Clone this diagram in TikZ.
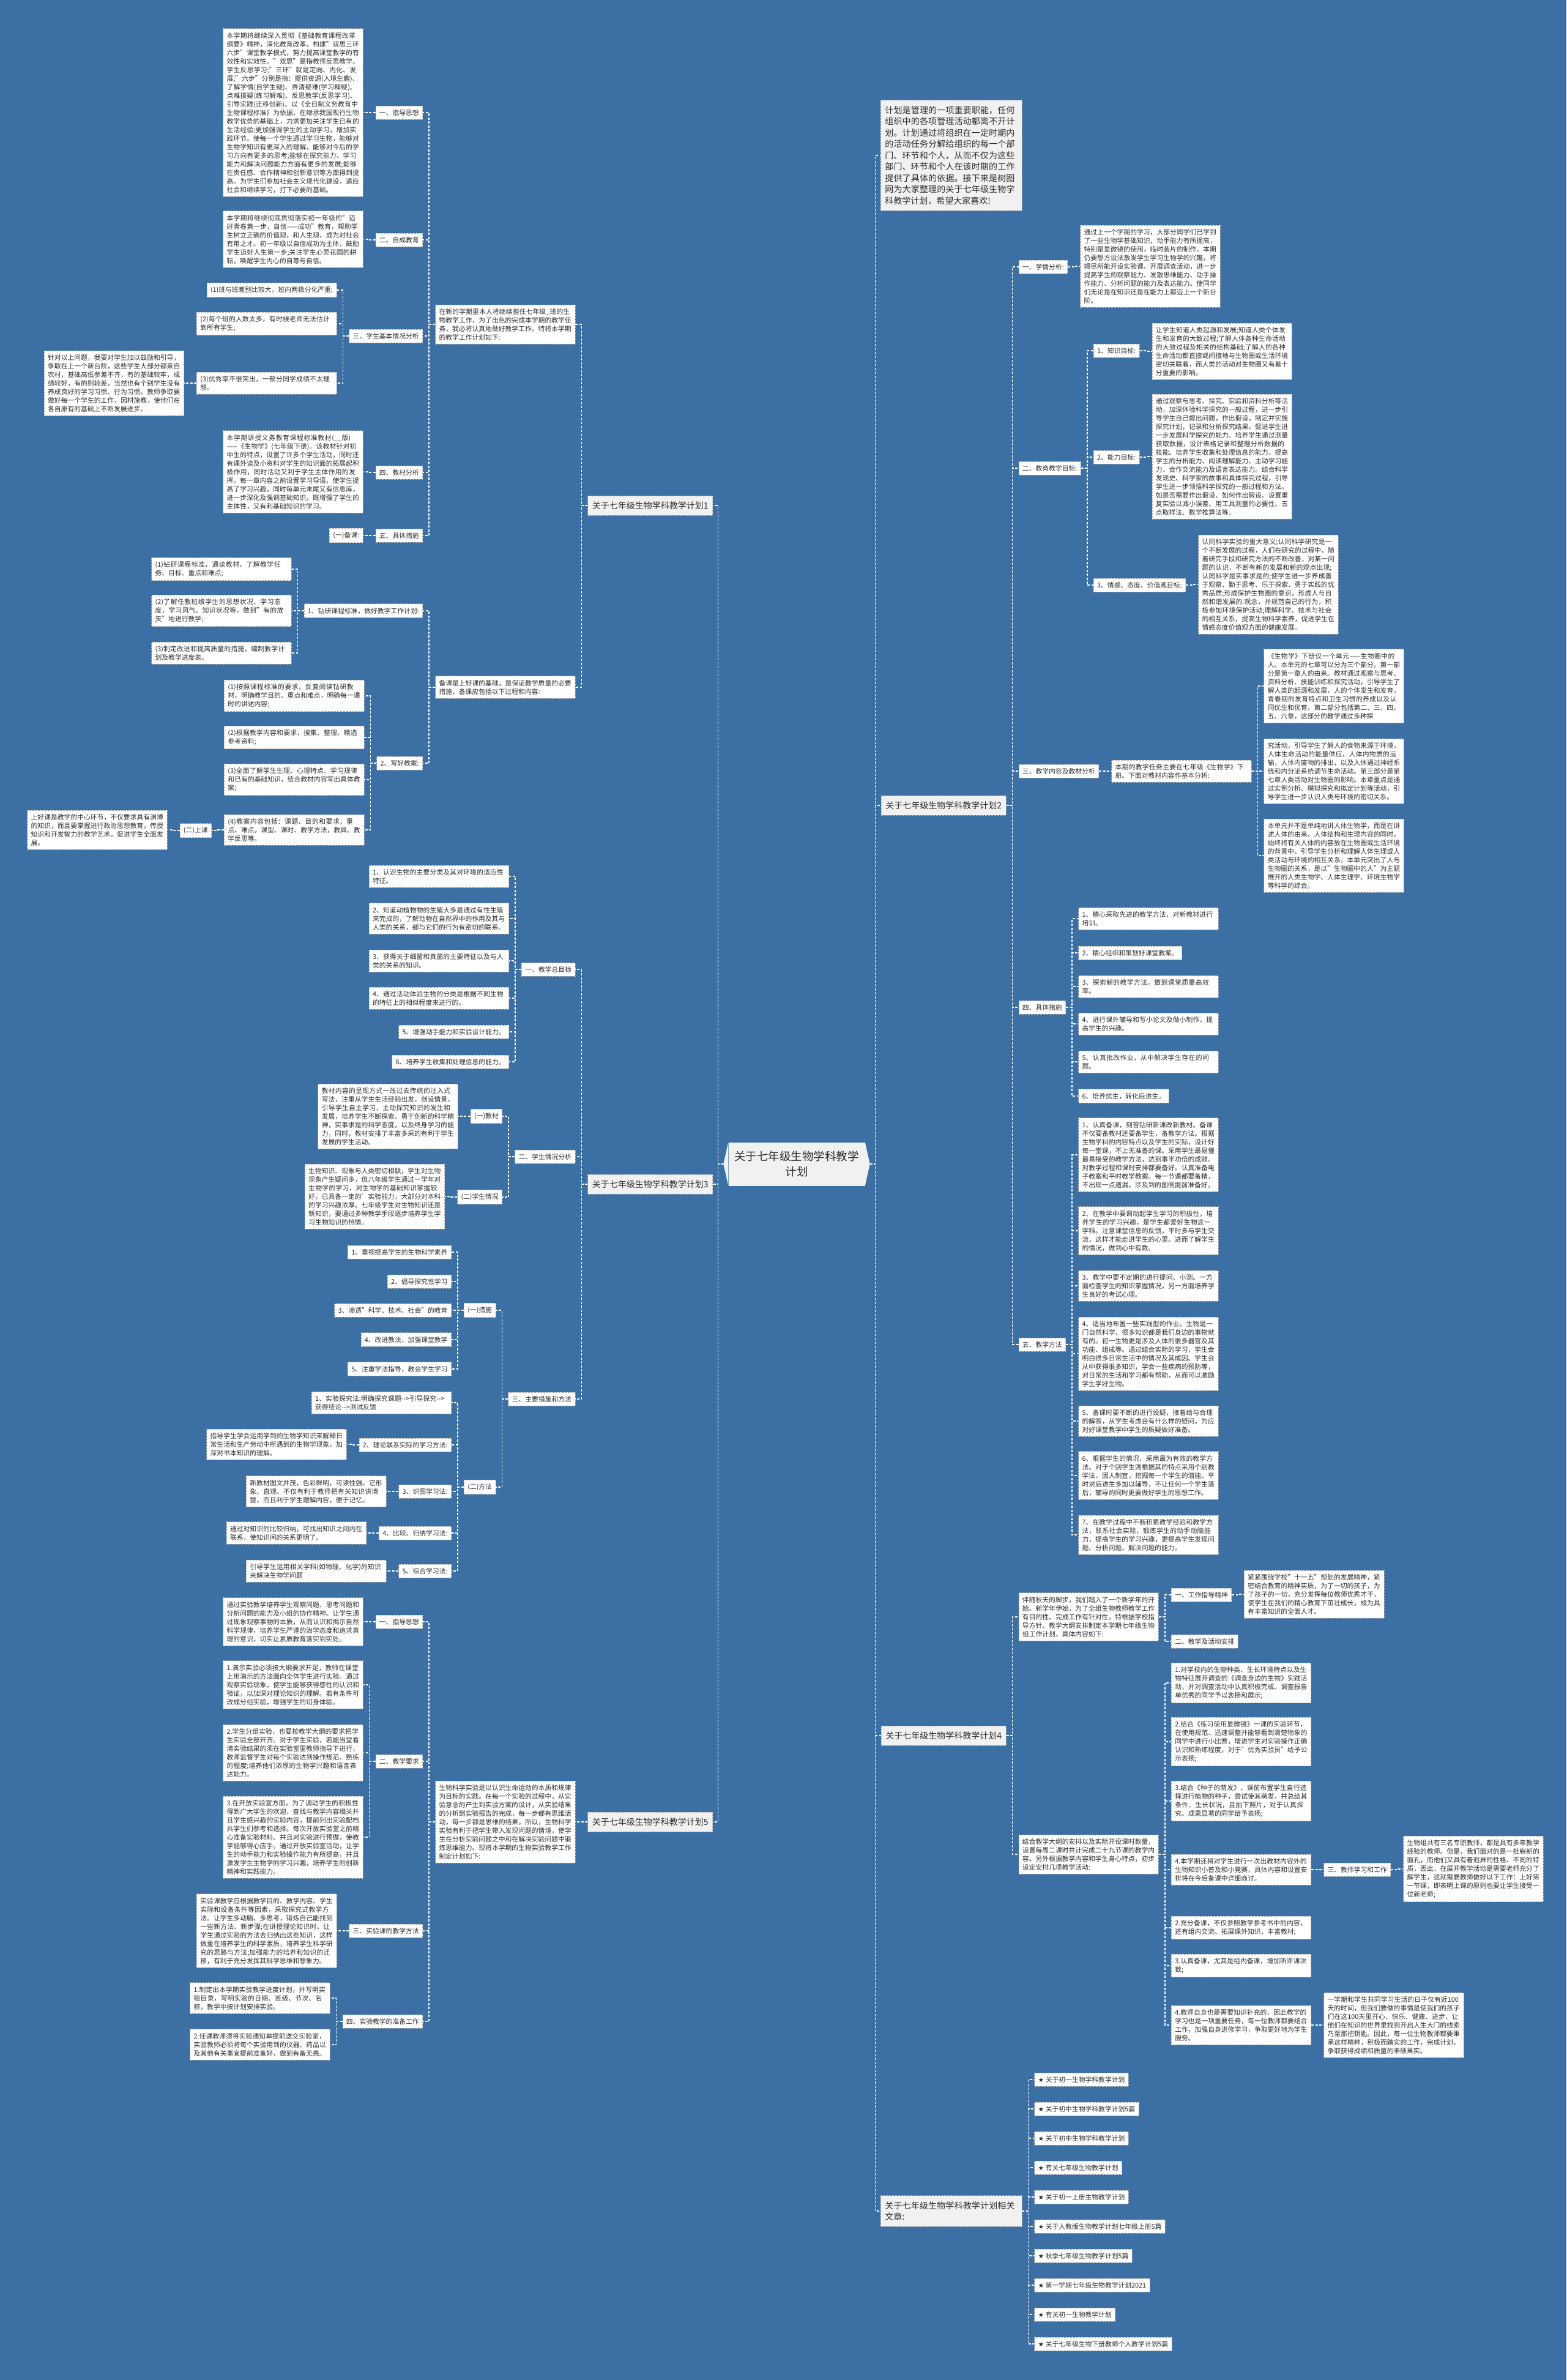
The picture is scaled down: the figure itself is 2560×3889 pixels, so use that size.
\documentclass[tikz,border=0pt]{standalone}
\usepackage{fontspec}
\setmainfont{Noto Sans CJK SC}
\newfontfamily\dejavu{DejaVu Sans}
\XeTeXlinebreaklocale "zh"
\XeTeXlinebreakskip=0pt plus 1pt
\usetikzlibrary{calc}
\definecolor{bgblue}{RGB}{60,112,165}
\definecolor{bxborder}{RGB}{175,175,175}
\definecolor{lvfill}{RGB}{241,241,241}
\definecolor{txtc}{RGB}{45,45,45}
\newcommand\fsleaf{\fontsize{10.8pt}{14pt}\selectfont}
\newcommand\fsone{\fontsize{14pt}{18.5pt}\selectfont}
\newcommand\fscen{\fontsize{18.5pt}{25pt}\selectfont}
\newcommand\conL[2]{\draw[conn] (#1.west) -- ++(-10,0) |- (#2.east);}
\newcommand\conR[2]{\draw[conn] (#1.east) -- ++(10,0) |- (#2.west);}
\tikzset{
 bx/.style={draw=bxborder, dash pattern=on 3pt off 2pt, line width=0.8pt, fill=white, text=txtc, inner xsep=6pt, inner ysep=6pt, font=\fsleaf, align=left},
 bxw/.style={bx, text width=216.5pt},
 bxs/.style={bx},
 lvone/.style={bx, fill=lvfill, font=\fsone, inner xsep=7pt, inner ysep=9.5pt},
 lvonew/.style={lvone, text width=216.5pt},
 cen/.style={fill=lvfill, text=txtc, font=\fscen, align=center, minimum width=223pt, minimum height=71pt, inner sep=0pt},
 conn/.style={draw=white, line width=1.5pt, dash pattern=on 4pt off 2.5pt},
 Lk/.style={anchor=east, xshift=-20pt},
 Rk/.style={anchor=west, xshift=20pt},
}
\begin{document}
\begin{tikzpicture}[x=1pt,y=-1pt]
\useasboundingbox (0,0) rectangle (2560,3889);
\fill[bgblue] (0,0) rectangle (2560,3889);

% ---------------- center ----------------
\node[cen] (C) at (1302,1902) {关于七年级生物学科教学\\计划};
\fill[lvfill] (C.north west) -- ([xshift=-8pt]C.west) -- (C.south west) -- cycle;
\fill[lvfill] (C.north east) -- ([xshift=8pt]C.east) -- (C.south east) -- cycle;

% ---------------- plan 1 ----------------
\node[lvone, anchor=east] (P1) at (1165,826) {关于七年级生物学科教学计划1};
\node[bxw, Lk] (I1) at (P1.west |- 0,530) {在新的学期里本人将继续担任七年级\_班的生物教学工作，为了出色的完成本学期的教学任务，我必将认真地做好教学工作。特将本学期的教学工作计划如下:};
\node[bxw, Lk] (N6) at (P1.west |- 0,1123) {备课是上好课的基础，是保证教学质量的必要措施，备课应包括以下过程和内容:};
\node[bxs, Lk] (N1) at (I1.west |- 0,184) {一、指导思想};
\node[bxs, Lk] (N2) at (I1.west |- 0,392) {二、自成教育};
\node[bxs, Lk] (N3) at (I1.west |- 0,549) {三、学生基本情况分析};
\node[bxs, Lk] (N4) at (I1.west |- 0,772) {四、教材分析};
\node[bxs, Lk] (N5) at (I1.west |- 0,875) {五、具体措施};
\node[bxw, Lk] (N1a) at (N1.west |- 0,184) {本学期将继续深入贯彻《基础教育课程改革纲要》精神，深化教育改革，构建"双思三环六步"课堂教学模式，努力提高课堂教学的有效性和实效性。"双思"是指教师反思教学、学生反思学习;"三环"就是定向、内化、发展;"六步"分别是指：提供资源(入境生趣)、了解学情(自学生疑)、弄清疑难(学习释疑)、点难拨疑(练习解难)、反思教学(反思学习)、引导实践(迁移创新)。以《全日制义务教育中生物课程标准》为依据，在继承我国现行生物教学优势的基础上，力求更加关注学生已有的生活经验;更加强调学生的主动学习，增加实践环节。使每一个学生通过学习生物，能够对生物学知识有更深入的理解，能够对今后的学习方向有更多的思考;能够在探究能力、学习能力和解决问题能力方面有更多的发展;能够在责任感、合作精神和创新意识等方面得到提高。为学生们参加社会主义现代化建设，适应社会和继续学习，打下必要的基础。};
\node[bxw, Lk] (N2a) at (N2.west |- 0,391) {本学期将继续彻底贯彻落实初一年级的"迈好青春第一步，自信——成功"教育，帮助学生树立正确的价值观，和人生观，成为对社会有用之才。初一年级以自信成功为主体，鼓励学生迈好人生第一步;关注学生心灵花园的耕耘，唤醒学生内心的自尊与自信。};
\node[bxs, Lk] (N3a) at (N3.west |- 0,474) {(1)班与班差别比较大，班内两极分化严重;};
\node[bxw, Lk] (N3b) at (N3.west |- 0,529) {(2)每个班的人数太多，有时候老师无法估计到所有学生;};
\node[bxw, Lk] (N3c) at (N3.west |- 0,626) {(3)优秀率不很突出，一部分同学成绩不太理想。};
\node[bxw, Lk] (N3d) at (N3c.west |- 0,626) {针对以上问题，我要对学生加以鼓励和引导，争取在上一个新台阶，这些学生大部分都来自农村，基础高低参差不齐，有的基础较牢，成绩较好，有的则较差，当然也有个别学生没有养成良好的学习习惯、行为习惯。教师争取要做好每一个学生的工作，因材施教，使他们在各自原有的基础上不断发展进步。};
\node[bxw, Lk] (N4a) at (N4.west |- 0,771) {本学期讲授义务教育课程标准教材(\_\_版)——《生物学》(七年级下册)。该教材针对初中生的特点，设置了许多个学生活动，同时还有课外读及小资料对学生的知识面的拓展起积极作用，同时活动又利于学生主体作用的发挥。每一章内容之前设置学习导语，使学生提高了学习兴趣，同时每单元末尾又有信息库，进一步深化及强调基础知识。既增强了学生的主体性，又有利基础知识的学习。};
\node[bxs, Lk] (N5a) at (N5.west |- 0,875) {(一)备课:};
\node[bxs, Lk] (N6a) at (N6.west |- 0,998) {1、钻研课程标准，做好教学工作计划:};
\node[bxs, Lk] (N6b) at (N6.west |- 0,1247) {2、写好教案:};
\node[bxw, Lk] (N6a1) at (N6a.west |- 0,930) {(1)钻研课程标准，通读教材，了解教学任务、目标、重点和难点;};
\node[bxw, Lk] (N6a2) at (N6a.west |- 0,998) {(2)了解任教班级学生的思想状况、学习态度，学习风气、知识状况等，做到"有的放矢"地进行教学;};
\node[bxw, Lk] (N6a3) at (N6a.west |- 0,1067) {(3)制定改进和提高质量的措施，编制教学计划及教学进度表。};
\node[bxw, Lk] (N6b1) at (N6b.west |- 0,1137) {(1)按照课程标准的要求，反复阅读钻研教材，明确教学目的、重点和难点，明确每一课时的讲述内容;};
\node[bxw, Lk] (N6b2) at (N6b.west |- 0,1205) {(2)根据教学内容和要求，搜集、整理、精选参考资料;};
\node[bxw, Lk] (N6b3) at (N6b.west |- 0,1274) {(3)全面了解学生生理、心理特点、学习规律和已有的基础知识，结合教材内容写出具体教案;};
\node[bxw, Lk] (N6b4) at (N6b.west |- 0,1356) {(4)教案内容包括：课题、目的和要求，重点、难点，课型、课时、教学方法，教具、教学反思等。};
\node[bxs, Lk] (N6b4a) at (N6b4.west |- 0,1357) {(二)上课};
\node[bxw, Lk] (N6b4b) at (N6b4a.west |- 0,1356) {上好课是教学的中心环节，不仅要求具有渊博的知识，而且要掌握进行政治思想教育，传授知识和开发智力的教学艺术，促进学生全面发展。};

% ---------------- plan 3 ----------------
\node[lvone, anchor=east] (P3) at (1165,1935) {关于七年级生物学科教学计划3};
\node[bxs, Lk] (P31) at (P3.west |- 0,1584) {一、教学总目标};
\node[bxs, Lk] (P32) at (P3.west |- 0,1890) {二、学生情况分析};
\node[bxs, Lk] (P33) at (P3.west |- 0,2286) {三、主要措施和方法};
\node[bxw, Lk] (A1) at (P31.west |- 0,1432) {1、认识生物的主要分类及其对环境的适应性特征。};
\node[bxw, Lk] (A2) at (P31.west |- 0,1501) {2、知道动植物物的生殖大多是通过有性生殖来完成的，了解动物在自然界中的作用及其与人类的关系，都与它们的行为有密切的联系。};
\node[bxw, Lk] (A3) at (P31.west |- 0,1570) {3、获得关于细菌和真菌的主要特征以及与人类的关系的知识。};
\node[bxw, Lk] (A4) at (P31.west |- 0,1631) {4、通过活动体验生物的分类是根据不同生物的特征上的相似程度来进行的。};
\node[bxs, Lk] (A5) at (P31.west |- 0,1686) {5、增强动手能力和实验设计能力。};
\node[bxs, Lk] (A6) at (P31.west |- 0,1735) {6、培养学生收集和处理信息的能力。};
\node[bxs, Lk] (B1) at (P32.west |- 0,1824) {(一)教材};
\node[bxs, Lk] (B2) at (P32.west |- 0,1956) {(二)学生情况};
\node[bxw, Lk] (B1a) at (B1.west |- 0,1824) {教材内容的呈现方式一改过去传统的注入式写法，注重从学生生活经验出发，创设情景，引导学生自主学习，主动探究知识的发生和发展，培养学生不断探索、勇于创新的科学精神，实事求是的科学态度，以及终身学习的能力，同时，教材安排了丰富多采的有利于学生发展的学生活动。};
\node[bxw, Lk] (B2a) at (B2.west |- 0,1955) {生物知识、现象与人类密切相联，学生对生物现象产生疑问多，但八年级学生通过一学年对生物学的学习，对生物学的基础知识掌握较好，已具备一定的'实验能力，大部分对本科的学习兴趣浓厚。七年级学生对生物知识还是新知识，要通过多种教学手段逐步培养学生学习生物知识的热情。};
\node[bxs, Lk] (K1) at (P33.west |- 0,2141) {(一)措施};
\node[bxs, Lk] (K2) at (P33.west |- 0,2430) {(二)方法};
\node[bxs, Lk] (K11) at (K1.west |- 0,2046) {1、重视提高学生的生物科学素养};
\node[bxs, Lk] (K12) at (K1.west |- 0,2094) {2、倡导探究性学习};
\node[bxs, Lk] (K13) at (K1.west |- 0,2141) {3、渗透"科学、技术、社会"的教育};
\node[bxs, Lk] (K14) at (K1.west |- 0,2189) {4、改进教法，加强课堂教学};
\node[bxs, Lk] (K15) at (K1.west |- 0,2237) {5、注重学法指导，教会学生学习};
\node[bxw, Lk] (K21) at (K2.west |- 0,2292) {1、实验探究法:明确探究课题-{}->引导探究-{}->获得结论-{}->测试反馈};
\node[bxs, Lk] (K22) at (K2.west |- 0,2361) {2、理论联系实际的学习方法:};
\node[bxs, Lk] (K23) at (K2.west |- 0,2437) {3、识图学习法:};
\node[bxs, Lk] (K24) at (K2.west |- 0,2505) {4、比较、归纳学习法:};
\node[bxs, Lk] (K25) at (K2.west |- 0,2567) {5、综合学习法:};
\node[bxw, Lk] (K22a) at (K22.west |- 0,2360) {指导学生学会运用学到的生物学知识来解释日常生活和生产劳动中所遇到的生物学现象，加深对书本知识的理解。};
\node[bxw, Lk] (K23a) at (K23.west |- 0,2437) {新教材图文并茂，色彩鲜明，可读性强。它形象、直观、不仅有利于教师把有关知识讲清楚，而且利于学生理解内容，便于记忆。};
\node[bxw, Lk] (K24a) at (K24.west |- 0,2505) {通过对知识的比较归纳，可找出知识之间内在联系，使知识间的关系更明了。};
\node[bxw, Lk] (K25a) at (K25.west |- 0,2567) {引导学生运用相关学科(如物理、化学)的知识来解决生物学问题};

% ---------------- plan 5 ----------------
\node[lvone, anchor=east] (P5) at (1165,2977) {关于七年级生物学科教学计划5};
\node[bxw, Lk] (D5) at (P5.west |- 0,2977) {生物科学实验是以认识生命运动的本质和规律为目标的实践。在每一个实验的过程中，从实验意念的产生到实验方案的设计，从实验结果的分析到实验报告的完成，每一步都有思维活动，每一步都是思维的结果。所以，生物科学实验有利于把学生带入发现问题的情境，使学生在分析实验问题之中和在解决实验问题中锻炼思维能力。现将本学期的生物实验教学工作制定计划如下:};
\node[bxs, Lk] (D1) at (D5.west |- 0,2650) {一、指导思想};
\node[bxs, Lk] (D2) at (D5.west |- 0,2878) {二、教学要求};
\node[bxs, Lk] (D3) at (D5.west |- 0,3155) {三、实验课的教学方法};
\node[bxs, Lk] (D4) at (D5.west |- 0,3303) {四、实验教学的准备工作};
\node[bxw, Lk] (D1a) at (D1.west |- 0,2650) {通过实验教学培养学生观察问题、思考问题和分析问题的能力及小组的协作精神。让学生通过现象观察事物的本质，从而认识和揭示自然科学规律，培养学生严谨的治学态度和追求真理的意识，切实让素质教育落实到实处。};
\node[bxw, Lk] (D2a) at (D2.west |- 0,2753) {1.演示实验必须按大纲要求开足，教师在课堂上用演示的方法面向全体学生进行实验。通过观察实验现象，使学生能够获得感性的认识和验证，以加深对理论知识的理解。若有条件可改成分组实验，增强学生的切身体验。};
\node[bxw, Lk] (D2b) at (D2.west |- 0,2864) {2.学生分组实验，也要按教学大纲的要求把学生实验全部开齐。对于学生实验，若能当堂看清实验结果的须在实验室里教师指导下进行，教师监督学生对每个实验达到操作规范、熟练的程度;培养他们浓厚的生物学兴趣和语言表达能力。};
\node[bxw, Lk] (D2c) at (D2.west |- 0,3002) {3.在开放实验室方面，为了调动学生的积极性得到广大学生的欢迎，查找与教学内容相关并且学生感兴趣的实验内容，提前列出实验配档共学生们参考和选择。每次开放实验室之前精心准备实验材料、并且对实验进行预做，使教学能够得心应手。通过开放实验室活动，让学生的动手能力和实验操作能力有所提高，并且激发学生生物学的学习兴趣，培养学生的创新精神和实践能力。};
\node[bxw, Lk] (D3a) at (D3.west |- 0,3155) {实验课教学应根据教学目的、教学内容、学生实际和设备条件等因素，采取探究式教学方法。让学生多动脑、多思考，锻炼自己能找到一些新方法、新步骤;在讲授理论知识时，让学生通过实验的方法去归纳出这些知识，这样做重在培养学生的科学素质，培养学生科学研究的思路与方法;加强能力的培养和知识的迁移，有利于充分发挥其科学思维和想象力。};
\node[bxw, Lk] (D4a) at (D4.west |- 0,3265) {1.制定出本学期实验教学进度计划，并写明实验目录，写明实验的日期、班级、节次、名称，教学中按计划安排实验。};
\node[bxw, Lk] (D4b) at (D4.west |- 0,3341) {2.任课教师须将实验通知单提前送交实验室，实验教师必须将每个实验用到的仪器、药品以及其他有关事宜提前准备好，做到有备无患。};

% ---------------- right: intro ----------------
\node[lvonew, anchor=west] (R0) at (1439,254) {计划是管理的一项重要职能，任何组织中的各项管理活动都离不开计划。计划通过将组织在一定时期内的活动任务分解给组织的每一个部门、环节和个人，从而不仅为这些部门、环节和个人在该时期的工作提供了具体的依据。接下来是树图网为大家整理的关于七年级生物学科教学计划，希望大家喜欢!};

% ---------------- plan 2 ----------------
\node[lvone, anchor=west] (P2) at (1440,1316) {关于七年级生物学科教学计划2};
\node[bxs, Rk] (E1) at (P2.east |- 0,436) {一、学情分析:};
\node[bxs, Rk] (E2) at (P2.east |- 0,765) {二、教育教学目标:};
\node[bxs, Rk] (E3) at (P2.east |- 0,1260) {三、教学内容及教材分析};
\node[bxs, Rk] (E4) at (P2.east |- 0,1646) {四、具体措施};
\node[bxs, Rk] (E5) at (P2.east |- 0,2197) {五、教学方法};
\node[bxw, Rk] (E1a) at (E1.east |- 0,435) {通过上一个学期的学习，大部分同学们已学到了一些生物学基础知识，动手能力有所提高，特别是显微镜的使用，临时装片的制作。本期仍要想方设法激发学生学习生物学的兴趣，将竭尽所能开设实验课、开展调查活动，进一步提高学生的观察能力、发散思维能力、动手操作能力、分析问题的能力及表达能力。使同学们无论是在知识还是在能力上都迈上一个新台阶。};
\node[bxs, Rk] (E2a) at (E2.east |- 0,573) {1、知识目标:};
\node[bxs, Rk] (E2b) at (E2.east |- 0,747) {2、能力目标:};
\node[bxs, Rk] (E2c) at (E2.east |- 0,956) {3、情感、态度、价值观目标:};
\node[bxw, Rk] (E2a1) at (E2a.east |- 0,574) {让学生知道人类起源和发展;知道人类个体发生和发育的大致过程;了解人体各种生命活动的大致过程及相关的结构基础;了解人的各种生命活动都直接或间接地与生物圈或生活环境密切关联着，而人类的活动对生物圈又有着十分重要的影响。};
\node[bxw, Rk] (E2b1) at (E2b.east |- 0,746) {通过观察与思考、探究、实验和资料分析等活动，加深体验科学探究的一般过程，进一步引导学生自己提出问题，作出假设，制定并实施探究计划，记录和分析探究结果。促进学生进一步发展科学探究的能力。培养学生通过测量获取数据，设计表格记录和整理分析数据的技能。培养学生收集和处理信息的能力。提高学生的分析能力、阅读理解能力、主动学习能力、合作交流能力及语言表达能力。结合科学发现史、科学家的故事和具体探究过程，引导学生进一步领悟科学探究的一般过程和方法。如是否需要作出假设、如何作出假设、设置重复实验以减小误差、用工具测量的必要性、五点取样法、数学推算法等。};
\node[bxw, Rk] (E2c1) at (E2c.east |- 0,955) {认同科学实验的重大意义;认同科学研究是一个不断发展的过程，人们在研究的过程中，随着研究手段和研究方法的不断改善，对某一问题的认识，不断有新的发展和新的观点出现;认同科学是实事求是的;使学生进一步养成善于观察、勤于思考、乐于探索、勇于实践的优秀品质;形成保护生物圈的意识，形成人与自然和谐发展的.观念，并规范自己的行为，积极参加环境保护活动;理解科学、技术与社会的相互关系，提高生物科学素养，促进学生在情感态度价值观方面的健康发展。};
\node[bxw, Rk] (E3a) at (E3.east |- 0,1260) {本期的教学任务主要在七年级《生物学》下册。下面对教材内容作基本分析:};
\node[bxw, Rk] (E3b) at (E3a.east |- 0,1121) {《生物学》下册仅一个单元——生物圈中的人。本单元的七章可以分为三个部分。第一部分是第一章人的由来。教材通过观察与思考、资料分析、技能训练和探究活动，引导学生了解人类的起源和发展，人的个体发生和发育，青春期的发育特点和卫生习惯的养成以及认同优生和优育。第二部分包括第二、三、四、五、六章，这部分的教学通过多种探};
\node[bxw, Rk] (E3c) at (E3a.east |- 0,1260) {究活动，引导学生了解人的食物来源于环境，人体生命活动的能量供应，人体内物质的运输，人体内废物的排出，以及人体通过神经系统和内分泌系统调节生命活动。第三部分是第七章人类活动对生物圈的影响。本章重点是通过实例分析、模拟探究和拟定计划等活动，引导学生进一步认识人类与环境的密切关系。};
\node[bxw, Rk] (E3d) at (E3a.east |- 0,1398) {本单元并不是单纯地讲人体生物学，而是在讲述人体的由来、人体结构和生理内容的同时，始终将有关人体的内容放在生物圈或生活环境的背景中，引导学生分析和理解人体生理或人类活动与环境的相互关系。本单元突出了人与生物圈的关系，是以"生物圈中的人"为主题展开的人类生物学、人体生理学、环境生物学等科学的综合。};
\node[bxw, Rk] (E41) at (E4.east |- 0,1501) {1、精心采取先进的教学方法，对新教材进行培训。};
\node[bxs, Rk] (E42) at (E4.east |- 0,1557) {2、精心组织和策划好课堂教案。};
\node[bxw, Rk] (E43) at (E4.east |- 0,1612) {3、探索新的教学方法，做到课堂质量高效率。};
\node[bxw, Rk] (E44) at (E4.east |- 0,1673) {4、进行课外辅导和写小论文及做小制作，提高学生的兴趣。};
\node[bxw, Rk] (E45) at (E4.east |- 0,1735) {5、认真批改作业，从中解决学生存在的问题。};
\node[bxs, Rk] (E46) at (E4.east |- 0,1791) {6、培养优生，转化后进生。};
\node[bxw, Rk] (E51) at (E5.east |- 0,1887) {1、认真备课，刻苦钻研新课改新教材。备课不仅要备教材还要备学生，备教学方法。根据生物学科的内容特点以及学生的实际，设计好每一堂课，不上无准备的课。采用学生最易懂最易接受的教学方法，达到事半功倍的成效。对教学过程和课时安排都要备好。认真准备电子教案和平时教学教案。每一节课都要备精，不出现一点遗漏，涉及到的图例提前准备好。};
\node[bxw, Rk] (E52) at (E5.east |- 0,2011) {2、在教学中要调动起学生学习的积极性，培养学生的学习兴趣，是学生都爱好生物这一学科。注意课堂信息的反馈，平时多与学生交流，这样才能走进学生的心里。进而了解学生的情况，做到心中有数。};
\node[bxw, Rk] (E53) at (E5.east |- 0,2101) {3、教学中要不定期的进行提问、小测。一方面检查学生的知识掌握情况，另一方面培养学生良好的考试心理。};
\node[bxw, Rk] (E54) at (E5.east |- 0,2212) {4、适当地布置一些实践型的作业。生物是一门自然科学，很多知识都是我们身边的事物就有的。初一生物更是涉及人体的很多器官及其功能、组成等。通过结合实际的学习，学生会明白很多日常生活中的情况及其成因。学生会从中获得很多知识，学会一些疾病的预防等，对日常的生活和学习都有帮助，从而可以激励学生学好生物。};
\node[bxw, Rk] (E55) at (E5.east |- 0,2322) {5、备课时要不断的进行设疑，接着给与合理的解答，从学生考虑会有什么样的疑问。为应对好课堂教学中学生的质疑做好准备。};
\node[bxw, Rk] (E56) at (E5.east |- 0,2411) {6、根据学生的情况，采用最为有效的教学方法。对于个别学生则根据其的特点采用个别教学法，因人制宜，挖掘每一个学生的潜能。平时对后进生多加以辅导，不让任何一个学生落后，辅导的同时更要做好学生的思想工作。};
\node[bxw, Rk] (E57) at (E5.east |- 0,2508) {7、在教学过程中不断积累教学经验和教学方法，联系社会实际，锻炼学生的动手动脑能力，提高学生的学习兴趣，更提高学生发现问题、分析问题、解决问题的能力。};

% ---------------- plan 4 ----------------
\node[lvone, anchor=west] (P4) at (1440,2836) {关于七年级生物学科教学计划4};
\node[bxw, Rk] (F1) at (P4.east |- 0,2642) {伴随秋天的脚步，我们踏入了一个新学年的开始。新学年伊始，为了全组生物教师教学工作有目的性、完成工作有针对性，特根据学校指导方针、教学大纲安排制定本学期七年级生物组工作计划，具体内容如下:};
\node[bxw, Rk] (F2) at (P4.east |- 0,3030) {结合教学大纲的安排以及实际开设课时数量，设置每周二课时共计完成二十九节课的教学内容。另外根据教学内容和学生身心特点，初步设定安排几项教学活动:};
\node[bxs, Rk] (F1a) at (F1.east |- 0,2606) {一、工作指导精神};
\node[bxs, Rk] (F1b) at (F1.east |- 0,2682) {二、教学及活动安排};
\node[bxw, Rk] (F1a1) at (F1a.east |- 0,2605) {紧紧围绕学校"十一五"规划的发展精神，紧密结合教育的精神实质，为了一切的孩子，为了孩子的一切，充分发挥每位教师优秀才干，使学生在我们的精心教育下茁壮成长，成为具有丰富知识的全面人才。};
\node[bxw, Rk] (F21) at (F2.east |- 0,2750) {1.对学校内的生物种类、生长环境特点以及生物特征展开调查的《调查身边的生物》实践活动，并对调查活动中认真积极完成、调查报告单优秀的同学予以表扬和展示;};
\node[bxw, Rk] (F22) at (F2.east |- 0,2846) {2.结合《练习使用显微镜》一课的实验环节，在使用规范、迅速调整并能够看到清楚物象的同学中进行小比赛，增进学生对实验操作正确认识和熟练程度，对于"优秀实验员"给予公示表扬;};
\node[bxw, Rk] (F23) at (F2.east |- 0,2943) {3.结合《种子的萌发》，课前布置学生自行选择进行植物的种子，尝试使其萌发，并总结其条件、生长状况，且拍下照片，对于认真探究、成果显著的同学给予表扬;};
\node[bxw, Rk] (F24) at (F2.east |- 0,3055) {4.本学期还将对学生进行一次出教材内容外的生物知识小普及和小竞赛，具体内容和设置安排将在今后备课中详细商讨。};
\node[bxw, Rk] (F25) at (F2.east |- 0,3150) {2.充分备课，不仅参照教学参考书中的内容，还有组内交流、拓展课外知识，丰富教材;};
\node[bxw, Rk] (F26) at (F2.east |- 0,3212) {3.认真备课，尤其是组内备课，增加听评课次数;};
\node[bxw, Rk] (F27) at (F2.east |- 0,3309) {4.教师自身也是需要知识补充的，因此教学的学习也是一项重要任务，每一位教师都要结合工作，加强自身进修学习，争取更好地为学生服务。};
\node[bxs, Rk] (F24a) at (F24.east |- 0,3055) {三、教师学习和工作};
\node[bxw, Rk] (F24b) at (F24a.east |- 0,3054) {生物组共有三名专职教师，都是具有多年教学经验的教师。但是，我们面对的是一批崭新的面孔，而他们又具有着迥异的性格、不同的特质，因此，在展开教学活动是需要老师充分了解学生，这就需要教师做好以下工作：上好第一节课，即表明上课的原则也要让学生接受一位新老师;};
\node[bxw, Rk] (F27a) at (F27.east |- 0,3309) {一学期和学生共同学习生活的日子仅有近100天的时间，但我们要做的事情是使我们的孩子们在这100天里开心、快乐、健康、进步，让他们在知识的世界里找到开启人生大门的线索乃至那把钥匙。因此，每一位生物教师都要秉承这样精神，积极而踏实的工作，完成计划，争取获得成绩和质量的丰硕果实。};

% ---------------- related ----------------
\node[lvonew, anchor=west] (RA) at (1439,3613) {关于七年级生物学科教学计划相关文章:};
\node[bxs, Rk] (G1) at (RA.east |- 0,3398) {{\dejavu ★} 关于初一生物学科教学计划};
\node[bxs, Rk] (G2) at (RA.east |- 0,3446) {{\dejavu ★} 关于初中生物学科教学计划5篇};
\node[bxs, Rk] (G3) at (RA.east |- 0,3494) {{\dejavu ★} 关于初中生物学科教学计划};
\node[bxs, Rk] (G4) at (RA.east |- 0,3542) {{\dejavu ★} 有关七年级生物教学计划};
\node[bxs, Rk] (G5) at (RA.east |- 0,3590) {{\dejavu ★} 关于初一上册生物教学计划};
\node[bxs, Rk] (G6) at (RA.east |- 0,3638) {{\dejavu ★} 关于人教版生物教学计划七年级上册5篇};
\node[bxs, Rk] (G7) at (RA.east |- 0,3686) {{\dejavu ★} 秋季七年级生物教学计划5篇};
\node[bxs, Rk] (G8) at (RA.east |- 0,3734) {{\dejavu ★} 第一学期七年级生物教学计划2021};
\node[bxs, Rk] (G9) at (RA.east |- 0,3782) {{\dejavu ★} 有关初一生物教学计划};
\node[bxs, Rk] (G10) at (RA.east |- 0,3830) {{\dejavu ★} 关于七年级生物下册教师个人教学计划5篇};

% ---------------- connectors ----------------
\foreach \p in {P1,P3,P5} {\draw[conn] ([xshift=-8pt]C.west) -- ++(-9,0) |- (\p.east);}
\foreach \p in {R0,P2,P4,RA} {\draw[conn] ([xshift=8pt]C.east) -- ++(9,0) |- (\p.west);}
\conL{P1}{I1} \conL{P1}{N6}
\foreach \c in {N1,N2,N3,N4,N5} {\conL{I1}{\c}}
\conL{N1}{N1a} \conL{N2}{N2a}
\conL{N3}{N3a} \conL{N3}{N3b} \conL{N3}{N3c} \conL{N3c}{N3d}
\conL{N4}{N4a} \conL{N5}{N5a}
\conL{N6}{N6a} \conL{N6}{N6b}
\conL{N6a}{N6a1} \conL{N6a}{N6a2} \conL{N6a}{N6a3}
\conL{N6b}{N6b1} \conL{N6b}{N6b2} \conL{N6b}{N6b3} \conL{N6b}{N6b4}
\conL{N6b4}{N6b4a} \conL{N6b4a}{N6b4b}
\conL{P3}{P31} \conL{P3}{P32} \conL{P3}{P33}
\foreach \c in {A1,A2,A3,A4,A5,A6} {\conL{P31}{\c}}
\conL{P32}{B1} \conL{P32}{B2} \conL{B1}{B1a} \conL{B2}{B2a}
\conL{P33}{K1} \conL{P33}{K2}
\foreach \c in {K11,K12,K13,K14,K15} {\conL{K1}{\c}}
\foreach \c in {K21,K22,K23,K24,K25} {\conL{K2}{\c}}
\conL{K22}{K22a} \conL{K23}{K23a} \conL{K24}{K24a} \conL{K25}{K25a}
\conL{P5}{D5}
\foreach \c in {D1,D2,D3,D4} {\conL{D5}{\c}}
\conL{D1}{D1a} \conL{D2}{D2a} \conL{D2}{D2b} \conL{D2}{D2c}
\conL{D3}{D3a} \conL{D4}{D4a} \conL{D4}{D4b}
\foreach \c in {E1,E2,E3,E4,E5} {\conR{P2}{\c}}
\conR{E1}{E1a}
\conR{E2}{E2a} \conR{E2}{E2b} \conR{E2}{E2c}
\conR{E2a}{E2a1} \conR{E2b}{E2b1} \conR{E2c}{E2c1}
\conR{E3}{E3a} \conR{E3a}{E3b} \conR{E3a}{E3c} \conR{E3a}{E3d}
\foreach \c in {E41,E42,E43,E44,E45,E46} {\conR{E4}{\c}}
\foreach \c in {E51,E52,E53,E54,E55,E56,E57} {\conR{E5}{\c}}
\conR{P4}{F1} \conR{P4}{F2}
\conR{F1}{F1a} \conR{F1}{F1b} \conR{F1a}{F1a1}
\foreach \c in {F21,F22,F23,F24,F25,F26,F27} {\conR{F2}{\c}}
\conR{F24}{F24a} \conR{F24a}{F24b} \conR{F27}{F27a}
\foreach \c in {G1,G2,G3,G4,G5,G6,G7,G8,G9,G10} {\conR{RA}{\c}}
\end{tikzpicture}
\end{document}
